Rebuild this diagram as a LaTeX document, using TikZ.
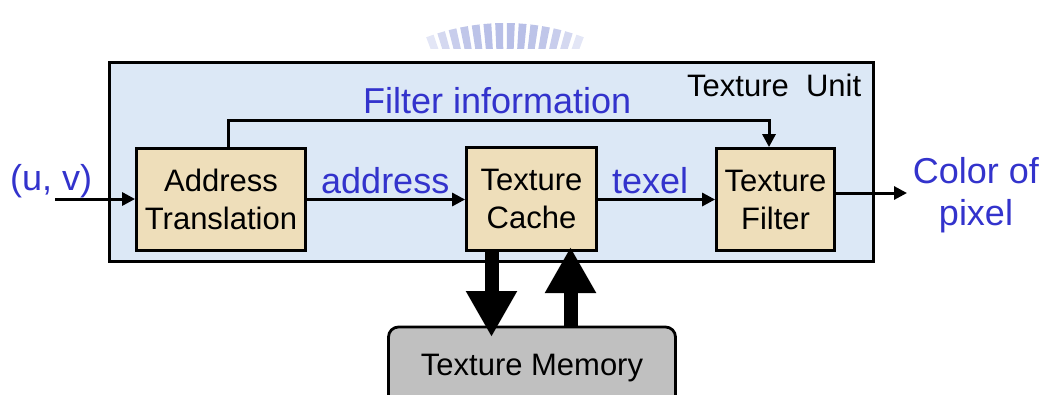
\documentclass[tikz,border=0pt]{standalone}
\usepackage{fontspec}
\setmainfont{Liberation Sans}
\usetikzlibrary{arrows.meta}

\definecolor{unitbg}{RGB}{220,232,246}
\definecolor{blocktan}{RGB}{238,222,186}
\definecolor{memgray}{RGB}{192,192,192}
\definecolor{labelblue}{RGB}{51,51,204}
\definecolor{crest}{RGB}{176,184,228}

\begin{document}
\begin{tikzpicture}[x=1pt,y=-1pt,
  blocktext/.style={font=\fontsize{31}{38}\selectfont},
  bluetext/.style={font=\fontsize{36}{42}\selectfont, text=labelblue, inner sep=0pt},
  unitbox/.style={draw=black, line width=2.8pt, fill=unitbg, inner sep=0pt},
  stagebox/.style={draw=black, line width=2.8pt, fill=blocktan, blocktext,
    align=center, inner sep=0pt},
  membox/.style={draw=black, line width=2.8pt, fill=memgray, rounded corners=10pt,
    blocktext, inner sep=0pt},
  flow/.style={line width=3pt, -{Triangle[length=13pt,width=13pt]}},
  busarrow/.style={line width=14pt, -{Triangle[length=46pt,width=48pt]}}
]
\useasboundingbox (0,0) rectangle (1047,394);
\clip (0,0) rectangle (1047,394);

% crest emblem peeking above the unit frame
\begin{scope}
  \clip (400,0) rectangle (620,48);
  \begin{scope}[shift={(505,248)}]
    \foreach \a/\op in {70.5/0.35,73.5/0.55,76.5/0.7,79.5/0.8,82.5/0.85,85.5/0.9,88.5/0.9,
                        91.5/0.9,94.5/0.9,97.5/0.85,100.5/0.8,103.5/0.7,106.5/0.55,109.5/0.35}
      \fill[crest, opacity=\op] (-\a-1:225) -- (-\a+1:225) -- (-\a+1:190) -- (-\a-1:190) -- cycle;
  \end{scope}
\end{scope}

% texture unit frame
\node[unitbox, minimum width=764pt, minimum height=199pt] (unit) at (491.5,162) {};
\node[blocktext, anchor=base west, inner sep=0pt] (unitname) at (687,96) {Texture\ \ Unit};

% pipeline stages
\node[stagebox, minimum width=169pt, minimum height=102pt] (at) at (221,199.5)
  {Address\\Translation};
\node[stagebox, minimum width=130pt, minimum height=103pt] (cache) at (531.5,199)
  {Texture\\Cache};
\node[stagebox, minimum width=118pt, minimum height=102pt] (filt) at (775.5,199.5)
  {Texture\\Filter};

% memory below the unit
\node[membox, minimum width=287pt, minimum height=83pt] (mem) at (532,368.5)
  {Texture Memory};

% labels
\node[bluetext, anchor=base west] (uv) at (10,190) {(u, v)};
\node[bluetext, anchor=base west] (addr) at (321,193) {address};
\node[bluetext, anchor=base west] (texel) at (612,193) {texel};
\node[bluetext, anchor=base west] (finfo) at (363,113) {Filter information};
\node[bluetext, align=center] (color) at (976,195) {Color of\\pixel};

% connectors
\coordinate (uvstart) at (55,199);
\draw[flow] (uvstart) -- (at.west |- uvstart);
\draw[flow] (at.east) -- (cache.west |- at.east);
\draw[flow] (cache.east |- filt.west) -- (filt.west);

\coordinate (fiA) at (228,120);
\coordinate (fiB) at (769,120);
\draw[flow] (at.north -| fiA) -- (fiA) -- (fiB) -- (filt.north -| fiB);

\coordinate (outtip) at (907,193);
\draw[flow] (filt.east |- outtip) -- (outtip);

% cache <-> memory traffic
\coordinate (dntip) at (491.5,337);
\coordinate (uptip) at (570.5,247);
\draw[busarrow] (cache.south -| dntip) -- (dntip);
\draw[busarrow] (mem.north -| uptip) -- (uptip);
\end{tikzpicture}
\end{document}
